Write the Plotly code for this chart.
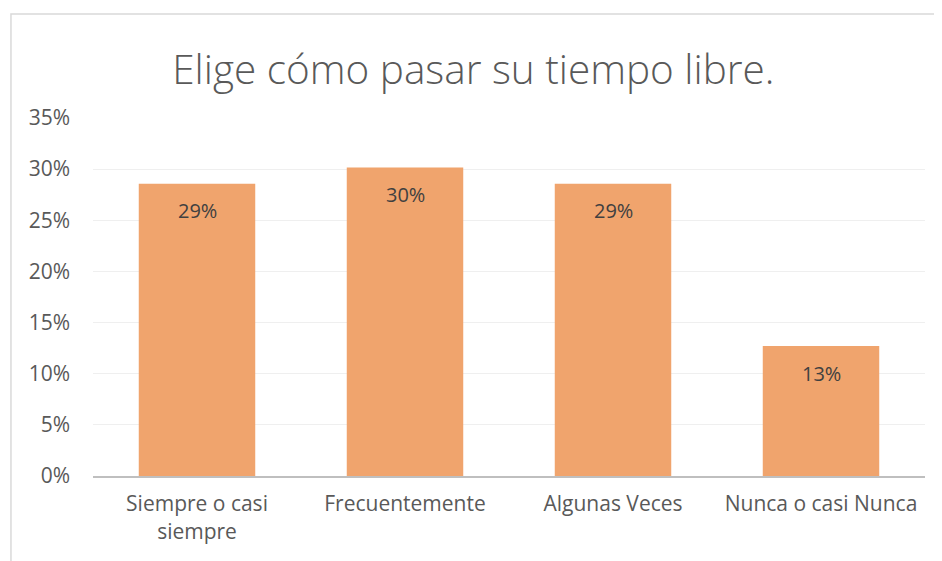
import plotly.graph_objects as go

categories = ["Siempre o casi<br>siempre", "Frecuentemente", "Algunas Veces", "Nunca o casi Nunca"]
values = [0.2857, 0.3016, 0.2857, 0.1270]
labels = ["29%", "30%", "29%", "13%"]
tick_vals = [0, 0.05, 0.10, 0.15, 0.20, 0.25, 0.30, 0.35]
tick_text = ["0%", "5%", "10%", "15%", "20%", "25%", "30%", "35%"]

font_family = "Open Sans, Noto Sans, DejaVu Sans, sans-serif"

fig = go.Figure()
fig.add_trace(go.Bar(
    x=categories, y=values,
    marker=dict(color="#F0A46D", line=dict(width=0)),
    hoverinfo="skip",
))

for c, v, t in zip(categories, values, labels):
    fig.add_annotation(x=c, y=v, text=t, showarrow=False, xref="x", yref="y",
                       yanchor="middle", yshift=-27,
                       font=dict(family=font_family, size=20, color="#404040"))

fig.update_layout(
    width=942, height=561,
    margin=dict(l=85, r=25, t=110, b=93),
    paper_bgcolor="white", plot_bgcolor="white",
    bargap=0.44,
    showlegend=False,
    title=dict(text="Elige cómo pasar su tiempo libre.", x=0.494, xanchor="center",
               y=0.8895, yanchor="middle",
               font=dict(family=font_family, size=40.5, color="#595959", weight=300)),
    xaxis=dict(showgrid=False, showline=True, linecolor="#BFBFBF", linewidth=2,
               ticks="", ticklabelstandoff=8,
               tickfont=dict(family=font_family, size=21, color="#595959")),
    yaxis=dict(range=[0, 0.35], tickvals=tick_vals, ticktext=tick_text,
               showgrid=True, gridcolor="#EFEFEF", gridwidth=1,
               zeroline=False, showline=False, ticks="", ticklabelstandoff=22,
               tickfont=dict(family=font_family, size=21, color="#595959")),
    shapes=[dict(type="rect", xref="paper", yref="paper",
                 x0=-0.0986, x1=1.05, y0=-0.3, y1=1.2905,
                 line=dict(color="#D9D9D9", width=1.5), fillcolor="rgba(0,0,0,0)",
                 layer="below")],
)

fig.write_html("out.html")
